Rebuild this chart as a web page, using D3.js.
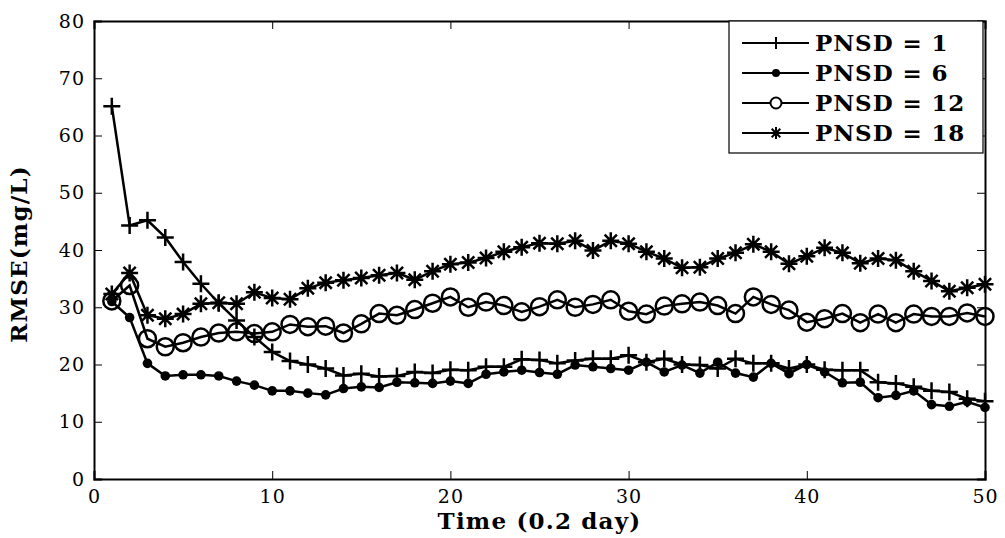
<!DOCTYPE html>
<html>
<head>
<meta charset="utf-8">
<script src="https://cdn.jsdelivr.net/npm/d3@7"></script>
<style>
  body { margin: 0; background: #fff; }
  svg text { font-family: "DejaVu Serif", Georgia, serif; fill: #000; }
  .tick-label { font-size: 19px; letter-spacing: 1px; }
  .axis-title { font-size: 23px; font-weight: bold; letter-spacing: 1.2px; }
  .legend-label { font-size: 23px; font-weight: bold; letter-spacing: 0.9px; }
</style>
</head>
<body>
<div id="chart"></div>
<script>
// time steps 1..50 (0.2 day each)
const steps = d3.range(1, 51);

const pnsd1 = [65.1, 44.3, 45.2, 42.2, 37.9, 34.1, 30.7, 27.7, 24.8, 22.2,
  20.6, 20.0, 19.3, 18.1, 18.4, 17.9, 18.0, 18.7, 18.5, 19.1,
  19.0, 19.6, 19.6, 20.9, 20.8, 20.2, 20.7, 21.0, 21.0, 21.6,
  20.4, 21.0, 20.0, 19.9, 19.3, 21.0, 20.2, 20.2, 19.3, 20.0,
  19.1, 19.0, 19.0, 16.9, 16.7, 16.1, 15.4, 15.2, 14.0, 13.6];

const pnsd6 = [31.0, 28.2, 20.2, 18.0, 18.2, 18.2, 18.0, 17.1, 16.4, 15.4,
  15.4, 15.0, 14.7, 15.8, 16.1, 16.0, 16.9, 16.8, 16.7, 17.1,
  16.7, 18.3, 18.7, 19.0, 18.6, 18.3, 19.9, 19.6, 19.3, 19.0,
  20.4, 18.7, 19.9, 18.5, 20.4, 18.5, 17.8, 20.2, 18.4, 20.0,
  18.7, 16.8, 16.9, 14.2, 14.6, 15.4, 13.0, 12.7, 13.5, 12.5];

const pnsd12 = [31.1, 33.8, 24.5, 23.1, 23.8, 24.8, 25.5, 25.7, 25.4, 25.7,
  27.0, 26.6, 26.7, 25.5, 27.1, 28.9, 28.6, 29.6, 30.7, 31.8,
  30.0, 30.9, 30.3, 29.2, 30.1, 31.3, 30.0, 30.5, 31.3, 29.3,
  28.8, 30.2, 30.6, 30.9, 30.3, 28.9, 31.8, 30.5, 29.5, 27.4,
  28.0, 28.9, 27.3, 28.8, 27.3, 28.8, 28.4, 28.4, 29.0, 28.4];

const pnsd18 = [32.3, 36.0, 28.6, 28.0, 28.8, 30.6, 30.8, 30.6, 32.6, 31.6,
  31.4, 33.3, 34.3, 34.7, 35.1, 35.6, 36.0, 34.8, 36.3, 37.5,
  37.8, 38.6, 39.7, 40.5, 41.2, 41.1, 41.6, 39.9, 41.6, 41.1,
  39.7, 38.5, 36.9, 37.0, 38.5, 39.5, 41.0, 39.7, 37.6, 38.9,
  40.4, 39.5, 37.7, 38.5, 38.2, 36.3, 34.6, 32.8, 33.4, 34.0];

const seriesNames = ["PNSD = 1", "PNSD = 6", "PNSD = 12", "PNSD = 18"];
const seriesMarkers = ["plus", "dot", "circle", "star"];
const seriesValues = [pnsd1, pnsd6, pnsd12, pnsd18];

const xTicks = [0, 10, 20, 30, 40, 50];
const yTicks = [0, 10, 20, 30, 40, 50, 60, 70, 80];

const width = 1005;
const height = 538;
const margin = { top: 21, right: 20, bottom: 59, left: 94 };

const svg = d3.select("#chart").append("svg")
  .attr("width", width)
  .attr("height", height);

const x = d3.scaleLinear().domain([0, 50]).range([margin.left, width - margin.right]);
const y = d3.scaleLinear().domain([0, 80]).range([height - margin.bottom, margin.top]);

const tickLen = 8;

// axes (MATLAB style: ticks inside, box on)
const gx = svg.append("g")
  .attr("transform", `translate(0,${y(0)})`)
  .call(d3.axisBottom(x).tickValues(xTicks).tickSize(-tickLen).tickPadding(11));
const gxTop = svg.append("g")
  .attr("transform", `translate(0,${y(80)})`)
  .call(d3.axisTop(x).tickValues(xTicks).tickSize(-tickLen).tickFormat(""));
const gy = svg.append("g")
  .attr("transform", `translate(${x(0)},0)`)
  .call(d3.axisLeft(y).tickValues(yTicks).tickSize(-tickLen).tickPadding(9));
const gyRight = svg.append("g")
  .attr("transform", `translate(${x(50)},0)`)
  .call(d3.axisRight(y).tickValues(yTicks).tickSize(-tickLen).tickFormat(""));

[gx, gxTop, gy, gyRight].forEach(function (g) {
  g.select(".domain").attr("stroke", "#000").attr("stroke-width", 2);
  g.selectAll(".tick line").attr("stroke", "#000").attr("stroke-width", 1);
  g.selectAll(".tick text").attr("class", "tick-label").attr("font-size", null).attr("font-family", null);
});

svg.append("text")
  .attr("class", "axis-title")
  .attr("x", (x(0) + x(50)) / 2)
  .attr("y", 529)
  .attr("text-anchor", "middle")
  .text("Time (0.2 day)");

svg.append("text")
  .attr("class", "axis-title")
  .attr("transform", `translate(27,${(y(0) + y(80)) / 2 + 4}) rotate(-90)`)
  .attr("text-anchor", "middle")
  .text("RMSE(mg/L)");

function drawMarker(g, type, cx, cy) {
  const s = 8.5;
  if (type === "plus") {
    g.append("path")
      .attr("d", `M${cx - s},${cy}H${cx + s}M${cx},${cy - s}V${cy + s}`)
      .attr("stroke", "#000").attr("stroke-width", 2.5).attr("fill", "none");
  } else if (type === "dot") {
    g.append("circle").attr("cx", cx).attr("cy", cy).attr("r", 4.8).attr("fill", "#000");
  } else if (type === "circle") {
    g.append("circle").attr("cx", cx).attr("cy", cy).attr("r", 8.5)
      .attr("fill", "none").attr("stroke", "#000").attr("stroke-width", 2.5);
  } else if (type === "star") {
    const d = s * 0.72;
    g.append("path")
      .attr("d", `M${cx - s},${cy}H${cx + s}M${cx},${cy - s}V${cy + s}` +
        `M${cx - d},${cy - d}L${cx + d},${cy + d}M${cx - d},${cy + d}L${cx + d},${cy - d}`)
      .attr("stroke", "#000").attr("stroke-width", 2.5).attr("fill", "none");
  }
}

const line = d3.line()
  .x(function (d, i) { return x(steps[i]); })
  .y(function (d) { return y(d); });

seriesValues.forEach(function (values, k) {
  const g = svg.append("g");
  g.append("path")
    .attr("d", line(values))
    .attr("fill", "none")
    .attr("stroke", "#000")
    .attr("stroke-width", 2.5);
  values.forEach(function (v, i) {
    drawMarker(g, seriesMarkers[k], x(steps[i]), y(v));
  });
});

// legend
const legend = svg.append("g");
const lx = 729, ly = 21, lw = 254, lh = 132;
legend.append("rect")
  .attr("x", lx).attr("y", ly).attr("width", lw).attr("height", lh)
  .attr("fill", "#fff").attr("stroke", "#000").attr("stroke-width", 1.2);

seriesNames.forEach(function (name, k) {
  const ry = ly + 22 + k * 30;
  legend.append("line")
    .attr("x1", lx + 13).attr("x2", lx + 80)
    .attr("y1", ry).attr("y2", ry)
    .attr("stroke", "#000").attr("stroke-width", 2);
  const mg = legend.append("g");
  if (seriesMarkers[k] === "plus") {
    mg.append("path").attr("d", `M${lx + 47},${ry - 6}V${ry + 6}`)
      .attr("stroke", "#000").attr("stroke-width", 2);
  } else if (seriesMarkers[k] === "dot") {
    mg.append("circle").attr("cx", lx + 47).attr("cy", ry).attr("r", 4).attr("fill", "#000");
  } else if (seriesMarkers[k] === "circle") {
    mg.append("circle").attr("cx", lx + 47).attr("cy", ry).attr("r", 5.5)
      .attr("fill", "#fff").attr("stroke", "#000").attr("stroke-width", 2);
  } else {
    const s = 6, d = 4.3, cx = lx + 47;
    mg.append("path")
      .attr("d", `M${cx},${ry - s}V${ry + s}M${cx - d},${ry - d}L${cx + d},${ry + d}M${cx - d},${ry + d}L${cx + d},${ry - d}`)
      .attr("stroke", "#000").attr("stroke-width", 2);
  }
  legend.append("text")
    .attr("class", "legend-label")
    .attr("x", lx + 86)
    .attr("y", ry + 8)
    .text(name);
});
</script>
</body>
</html>
